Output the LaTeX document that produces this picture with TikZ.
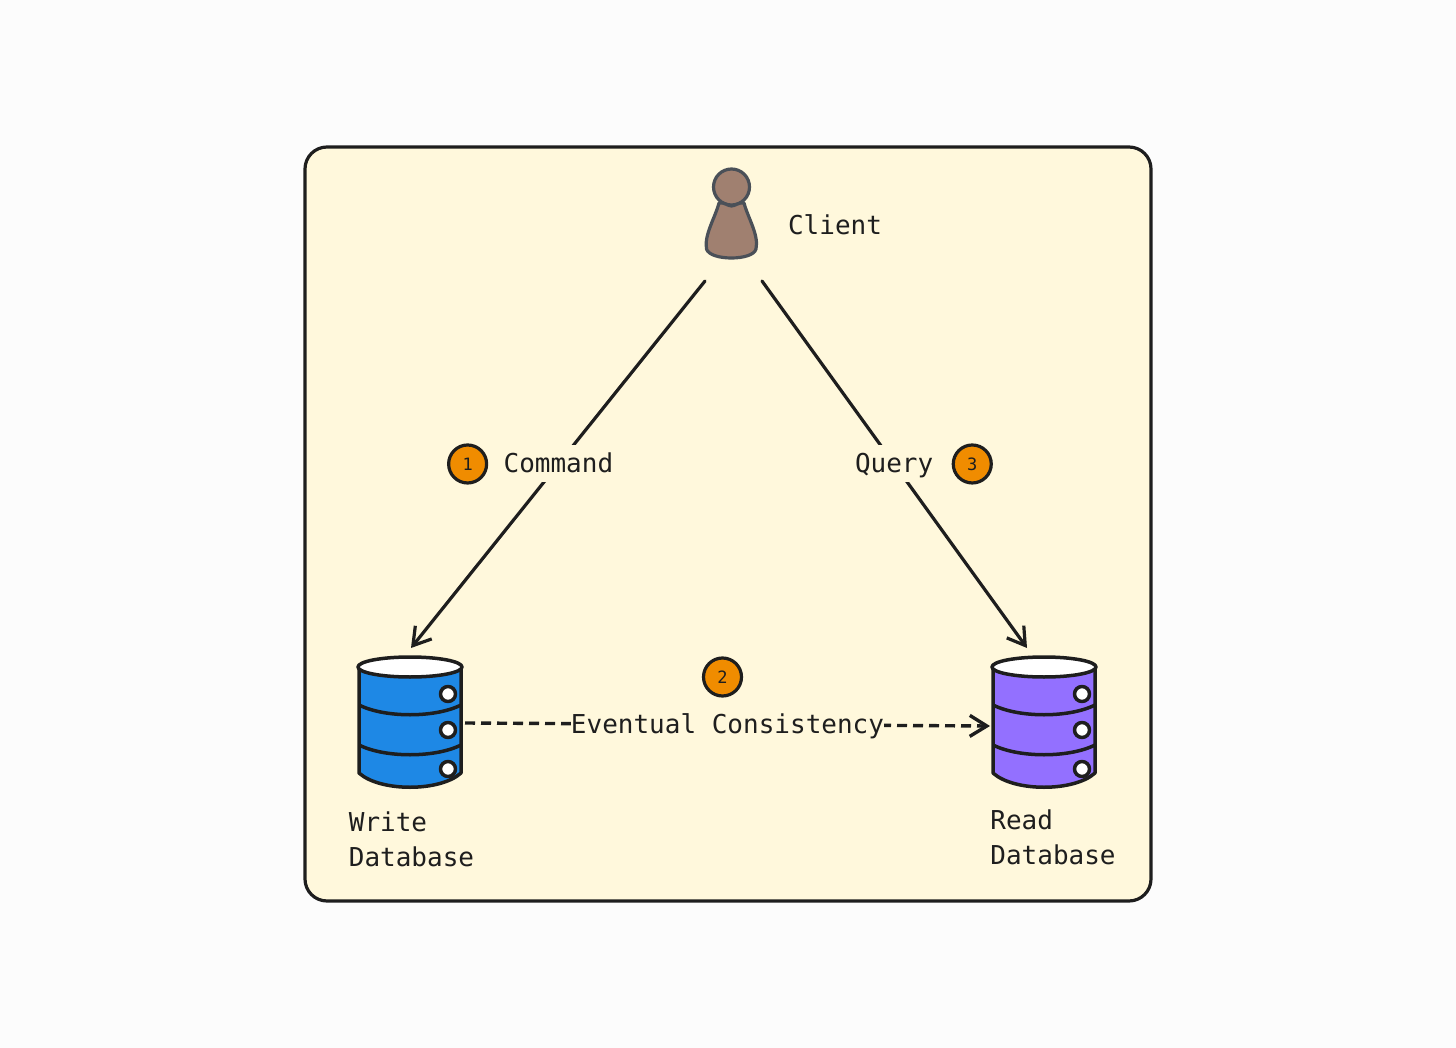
\documentclass[tikz,border=0pt]{standalone}
\usepackage{fontspec}
\setmainfont{DejaVu Sans Mono}
\usetikzlibrary{positioning,arrows.meta}

\definecolor{pagecol}{HTML}{FCFCFC}
\definecolor{panelcol}{HTML}{FFF8DC}
\definecolor{inkcol}{HTML}{1E1E1E}
\definecolor{badgecol}{HTML}{F08C00}
\definecolor{personcol}{HTML}{A08070}
\definecolor{personink}{HTML}{4A5058}
\definecolor{writecol}{HTML}{1E88E5}
\definecolor{readcol}{HTML}{9370FF}

% database can, #1 = centre of the top ellipse, #2 = fill
\newcommand{\dbcan}[2]{%
  \begin{scope}[shift={(#1)}]
    \draw[can, fill=#2] (-51,0) -- (-51,106)
      .. controls (-30,125) and (30,125) .. (51,106) -- (51,0) -- cycle;
    \draw[can, fill=white] (0,0) ellipse (52 and 10);
    \draw[can] (-51,38) .. controls (-25,51) and (25,51) .. (51,38);
    \draw[can] (-51,78) .. controls (-25,91) and (25,91) .. (51,78);
    \foreach \yy in {27,63,102} {
      \draw[can, fill=white] (38,\yy) circle (7.5);
    }
  \end{scope}
}

\begin{document}
\begin{tikzpicture}[x=1pt, y=-1pt,
    >={Straight Barb[length=17pt,width=21pt]},
    color=inkcol,
    every node/.style={outer sep=0pt},
    can/.style={line width=3.5pt, draw=inkcol, line join=round},
    arr/.style={->, line width=3.2pt, draw=inkcol, line cap=round},
    lbl/.style={%
      fill=panelcol, font=\fontsize{26}{35}\selectfont, text=inkcol,
      text height=19pt, text depth=2pt,
      inner xsep=0pt, inner ysep=0pt, minimum height=37pt
    },
    txt/.style={%
      font=\fontsize{26}{35}\selectfont, text=inkcol,
      inner sep=0pt, align=left
    },
    badge/.style={%
      circle, draw=inkcol, line width=3.2pt, fill=badgecol, text=inkcol,
      minimum size=38pt, inner sep=0pt, font=\fontsize{17}{17}\selectfont
    },
    slot/.style={rectangle, draw=none, minimum width=108pt, minimum height=150pt}
]
    \useasboundingbox (0,0) rectangle (1456,1048);
    \fill[pagecol] (0,0) rectangle (1456,1048);
    \draw[line width=3.2pt, draw=inkcol, fill=panelcol, rounded corners=22pt]
      (305,147) rectangle (1151,901);

    \node[slot, minimum width=57pt, minimum height=134pt] (client) at (733.5,214) {};
    \node[slot] (wdb) at (411,723) {};
    \node[slot] (rdb) at (1044,726) {};
    \coordinate (rdbtop) at (1027,648);

    % person
    \draw[line width=3.2pt, draw=personink, fill=personcol] (731.5,187) circle (18);
    \draw[line width=3.2pt, draw=personink, fill=personcol, line join=round]
      (719,203) .. controls (724,202) and (728,206) .. (731.5,206)
      .. controls (735,206) and (739,202) .. (744,203)
      .. controls (748,218) and (759,235) .. (756,249)
      .. controls (753,261) and (710,261) .. (706.5,249)
      .. controls (704,235) and (715,218) .. (719,203) -- cycle;
    \node[txt] (clientlbl) at (835,225) {Client};

    \dbcan{410,667}{writecol}
    \dbcan{1044,667}{readcol}
    \node[txt] (wdblbl) at (411.5,839.5) {Write\\Database};
    \node[txt] (rdblbl) at (1053,837.5) {Read\\Database};

    \draw[arr] (client.south west) -- node[lbl, pos=.4986] (cmd) {Command} (wdb.north);
    \draw[arr] (client.south east) -- node[lbl, pos=.4986] (qry) {Query} (rdbtop);
    \draw[arr, line width=3.4pt, dash pattern=on 10pt off 6pt, line cap=butt]
      (wdb.east) -- node[lbl] (ec) {Eventual Consistency} (rdb.west);

    \node[badge] (b1) [left = 17pt of cmd] {1};
    \node[badge] (b3) [right = 20pt of qry] {3};
    \node[badge] (b2) at (722.5,677) {2};
\end{tikzpicture}
\end{document}
